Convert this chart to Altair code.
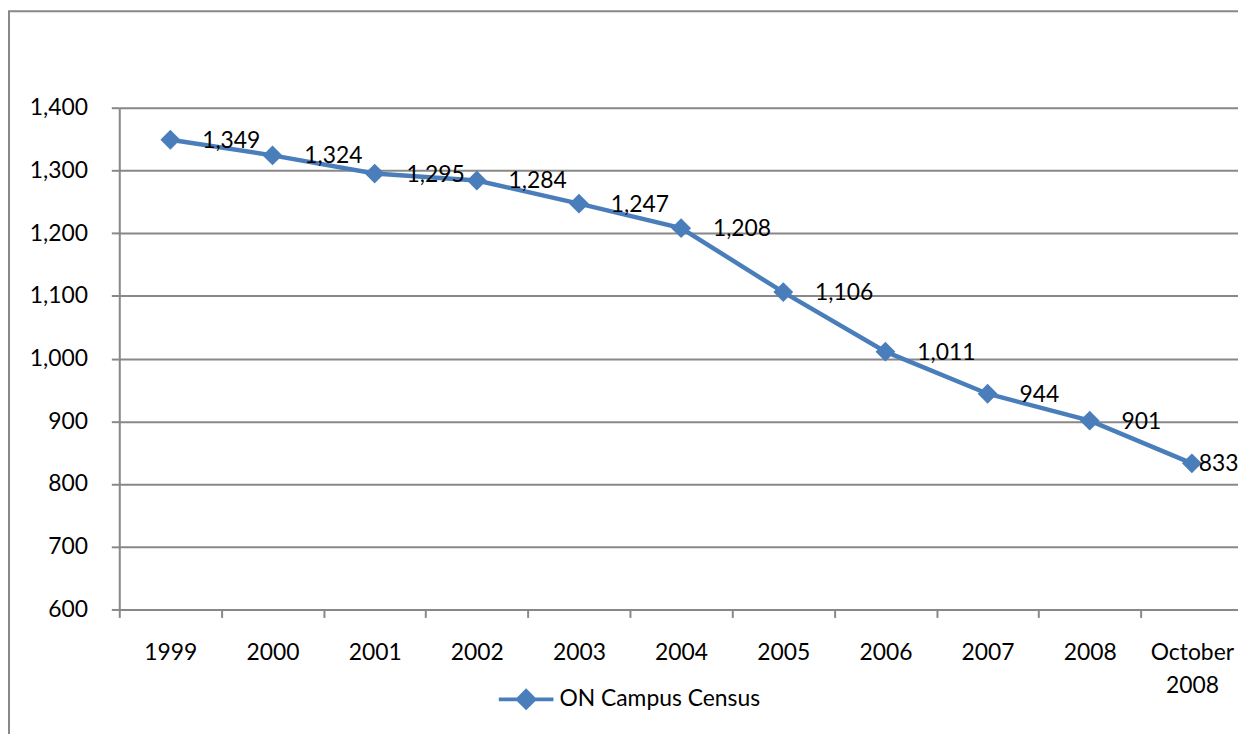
import altair as alt
import pandas as pd

years = ["1999", "2000", "2001", "2002", "2003", "2004", "2005", "2006", "2007", "2008", "October 2008"]
census = [1349, 1324, 1295, 1284, 1247, 1208, 1106, 1011, 944, 901, 833]
series_name = "ON Campus Census"
y_ticks = [600, 700, 800, 900, 1000, 1100, 1200, 1300, 1400]

df = pd.DataFrame({"year": years, "value": census, "series": [series_name] * len(years)})
df["is_last"] = df["year"] == years[-1]

BLUE = "#4A7EBB"
GRID = "#888888"
FONT = "Lato"
FS = 23

W, H = 1126, 505

x_enc = alt.X(
    "year:N",
    sort=years,
    scale=alt.Scale(type="band", range=[0, 1131], paddingInner=0, paddingOuter=0),
    axis=alt.Axis(
        title=None,
        labelAngle=0,
        tickBand="extent",
        grid=False,
        domainColor=GRID,
        domainWidth=2,
        tickColor=GRID,
        tickWidth=2,
        tickSize=8,
        labelPadding=24,
        labelFont=FONT,
        labelFontSize=FS,
        labelColor="black",
        labelLineHeight=34,
        labelExpr="datum.value == 'October 2008' ? ['October', '2008'] : datum.label",
    ),
)
y_enc = alt.Y(
    "value:Q",
    scale=alt.Scale(domain=[600, 1400], nice=False, zero=False),
    axis=alt.Axis(
        title=None,
        values=y_ticks,
        format=",d",
        grid=True,
        gridColor=GRID,
        gridWidth=2,
        domainColor=GRID,
        domainWidth=2,
        tickColor=GRID,
        tickWidth=2,
        tickSize=8,
        labelPadding=24,
        labelFont=FONT,
        labelFontSize=FS,
        labelColor="black",
    ),
)

legend_symbol = "M-1,0L-0.3,0L0,-0.3L0.3,0L1,0L0.3,0L0,0.3L-0.3,0Z"

color_enc = alt.Color(
    "series:N",
    scale=alt.Scale(range=[BLUE]),
    legend=alt.Legend(
        title=None,
        orient="none",
        legendX=380,
        legendY=566,
        padding=0,
        symbolType=legend_symbol,
        symbolSize=3025,
        symbolStrokeWidth=4,
        symbolFillColor=BLUE,
        symbolStrokeColor=BLUE,
        labelOffset=4,
        labelLimit=0,
        labelFont=FONT,
        labelFontSize=FS,
        labelColor="black",
    ),
)

base = alt.Chart(df)

line = base.mark_line(strokeWidth=4.5).encode(x=x_enc, y=y_enc, color=color_enc)
points = base.mark_point(shape="diamond", filled=True, size=400, opacity=1, color=BLUE).encode(
    x=x_enc, y=y_enc
)
labels = base.transform_filter("!datum.is_last").mark_text(
    align="left", baseline="middle", dx=32, dy=1, font=FONT, fontSize=FS, color="black"
).encode(x=x_enc, y=y_enc, text=alt.Text("value:Q", format=",d"))
last_label = base.transform_filter("datum.is_last").mark_text(
    align="left", baseline="middle", dx=7, dy=1, font=FONT, fontSize=FS, color="black"
).encode(x=x_enc, y=y_enc, text=alt.Text("value:Q", format=",d"))

border = alt.Chart(pd.DataFrame({"a": [0]})).mark_rect(
    fill="transparent", stroke=GRID, strokeWidth=2
).encode(
    x=alt.value(-111), x2=alt.value(1200), y=alt.value(-97), y2=alt.value(720)
)

chart = alt.layer(border, line, points, labels, last_label).properties(
    width=W,
    height=H,
    autosize=alt.AutoSizeParams(type="none"),
    padding={"left": 112, "top": 98, "right": 0, "bottom": 123},
).configure_view(stroke=None).configure(background="white")

chart.save("out.html", embed_options={"renderer": "svg", "actions": False})
